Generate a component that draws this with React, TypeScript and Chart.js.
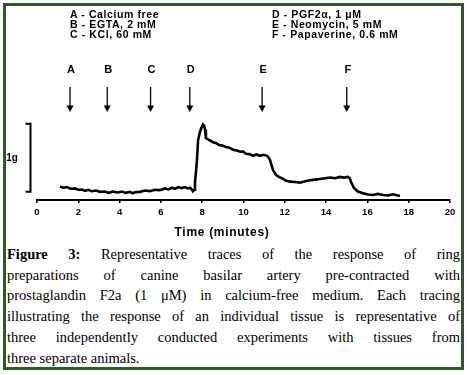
import React, { useEffect, useRef } from "react";
import { Chart, registerables } from "chart.js";

Chart.register(...registerables);

// ---- data ----
const legendLeft = ["A - Calcium free", "B - EGTA, 2 mM", "C - KCl, 60 mM"];
const legendRight = ["D - PGF2\u03b1, 1 \u03bcM", "E - Neomycin, 5 mM", "F - Papaverine, 0.6 mM"];
const arrowLabels = ["A", "B", "C", "D", "E", "F"];
const arrowTimes = [1.6, 3.4, 5.5, 7.4, 10.9, 15.0];
const xTicks = [0, 2, 4, 6, 8, 10, 12, 14, 16, 18, 20];
const xTitle = "Time (minutes)";
const scaleBarLabel = "1g";
const scaleBarStart = 0.12; // g
const scaleBarSize = 1; // g

const timeMin = [
  1.11, 1.3, 1.45, 1.62, 1.84, 2.0, 2.18, 2.33, 2.47, 2.66, 2.86, 3.05, 3.29, 3.47, 3.68, 3.9,
  4.12, 4.3, 4.5, 4.62, 4.75, 4.98, 5.23, 5.47, 5.71, 5.95, 6.2, 6.37, 6.54, 6.7, 6.83, 7.0,
  7.17, 7.3, 7.41, 7.5, 7.55, 7.62, 7.65, 7.7, 7.75, 7.8, 7.89, 7.97, 8.04, 8.1, 8.14, 8.18,
  8.25, 8.33, 8.42, 8.52, 8.66, 8.81, 8.98, 9.15, 9.32, 9.49, 9.66, 9.83, 9.97, 10.12, 10.3,
  10.46, 10.63, 10.8, 10.97, 11.14, 11.2, 11.28, 11.35, 11.43, 11.57, 11.77, 11.9, 12.01,
  12.25, 12.5, 12.74, 12.98, 13.22, 13.46, 13.7, 13.95, 14.19, 14.43, 14.67, 14.87, 15.06,
  15.15, 15.21, 15.35, 15.54, 15.79, 16.03, 16.27, 16.51, 16.76, 17.0, 17.24, 17.48, 17.58,
];
const tensionG = [
  0.196, 0.18, 0.19, 0.165, 0.17, 0.15, 0.155, 0.135, 0.15, 0.13, 0.14, 0.12, 0.125, 0.105,
  0.125, 0.11, 0.125, 0.105, 0.12, 0.1, 0.115, 0.12, 0.14, 0.13, 0.15, 0.145, 0.17, 0.155,
  0.18, 0.165, 0.19, 0.175, 0.19, 0.17, 0.18, 0.155, 0.13, 0.15, 0.25, 0.42, 0.6, 0.88, 1.0,
  1.07, 1.11, 1.09, 1.03, 0.91, 0.9, 0.88, 0.87, 0.85, 0.84, 0.81, 0.8, 0.78, 0.77, 0.74,
  0.73, 0.71, 0.715, 0.68, 0.675, 0.65, 0.67, 0.65, 0.665, 0.65, 0.63, 0.59, 0.52, 0.44,
  0.37, 0.33, 0.315, 0.29, 0.27, 0.265, 0.255, 0.275, 0.29, 0.3, 0.31, 0.32, 0.33, 0.32,
  0.34, 0.33, 0.34, 0.32, 0.265, 0.176, 0.125, 0.1, 0.08, 0.074, 0.09, 0.074, 0.066, 0.085,
  0.066, 0.06,
];

const captionLines = [
  "Representative traces of the response of ring",
  "preparations of canine basilar artery pre-contracted with",
  "prostaglandin F2a (1 \u03bcM) in calcium-free medium. Each tracing",
  "illustrating the response of an individual tissue is representative of",
  "three independently conducted experiments with tissues from",
  "three separate animals.",
];

const W = 467;
const CH = 240;
const GREEN = "#2e5a27";
const SANS = "'Liberation Sans', Arial, sans-serif";

const overlayPlugin = {
  id: "overlay",
  afterDraw(chart: any) {
    const ctx = chart.ctx;
    const xs = chart.scales.x;
    const ys = chart.scales.y;
    ctx.save();
    ctx.fillStyle = "#000";
    ctx.strokeStyle = "#000";
    // arrows and letters
    arrowTimes.forEach((t, i) => {
      const px = xs.getPixelForValue(t);
      ctx.font = `bold 11px ${SANS}`;
      ctx.textAlign = "center";
      ctx.textBaseline = "middle";
      ctx.fillText(arrowLabels[i], px + 1, 69.5);
      ctx.lineWidth = 1.3;
      ctx.beginPath();
      ctx.moveTo(px, 87);
      ctx.lineTo(px, 106);
      ctx.stroke();
      ctx.beginPath();
      ctx.moveTo(px - 3.5, 105.5);
      ctx.lineTo(px + 3.5, 105.5);
      ctx.lineTo(px, 112);
      ctx.closePath();
      ctx.fill();
    });
    // scale bar
    const yTop = ys.getPixelForValue(scaleBarStart + scaleBarSize);
    const yBot = ys.getPixelForValue(scaleBarStart);
    const bx = 30.5;
    ctx.lineWidth = 2;
    ctx.beginPath();
    ctx.moveTo(bx - 5, yTop);
    ctx.lineTo(bx, yTop);
    ctx.lineTo(bx, yBot);
    ctx.lineTo(bx - 5, yBot);
    ctx.stroke();
    ctx.font = `bold 10px ${SANS}`;
    ctx.textAlign = "center";
    ctx.textBaseline = "middle";
    ctx.fillText(scaleBarLabel, 12, (yTop + yBot) / 2);
    // x title
    ctx.font = `bold 12px ${SANS}`;
    try {
      ctx.letterSpacing = "0.7px";
    } catch (e) {}
    ctx.fillText(xTitle, 222, 233);
    ctx.restore();
  },
};

function ChartView() {
  const ref = useRef<HTMLCanvasElement | null>(null);
  useEffect(() => {
    if (!ref.current) return;
    const chart = new Chart(ref.current, {
      type: "line",
      data: {
        datasets: [
          {
            data: timeMin.map((t, i) => ({ x: t, y: tensionG[i] })),
            borderColor: "#000",
            borderWidth: 2.6,
            pointRadius: 0,
            tension: 0,
            fill: false,
          },
        ],
      },
      options: {
        animation: false,
        responsive: false,
        events: [],
        layout: { padding: { left: 37, right: 17, top: 60, bottom: 0 } },
        plugins: { legend: { display: false }, tooltip: { enabled: false }, title: { display: false } },
        scales: {
          x: {
            type: "linear",
            min: 0,
            max: 20,
            afterFit: (s: any) => {
              s.height = 40;
            },
            afterBuildTicks: (s: any) => {
              s.ticks = xTicks.map((v) => ({ value: v }));
            },
            border: { display: true, color: "#000", width: 2 },
            grid: { drawOnChartArea: false, drawTicks: true, tickLength: 3, color: "#000", lineWidth: 1.5 },
            ticks: {
              color: "#000",
              font: { family: SANS, size: 9.5, weight: "bold" },
              padding: 4,
              maxRotation: 0,
              autoSkip: false,
            },
          },
          y: {
            display: false,
            min: 0,
            max: 140 / 68,
          },
        },
      },
      plugins: [overlayPlugin],
    } as any);
    return () => chart.destroy();
  }, []);
  return <canvas ref={ref} width={W} height={CH} style={{ position: "absolute", left: 0, top: 0 }} />;
}

export default function App() {
  const legendStyle: React.CSSProperties = {
    position: "absolute",
    top: 8.5,
    fontFamily: SANS,
    fontWeight: "bold",
    fontSize: 10.5,
    letterSpacing: "0.6px",
    lineHeight: "10.4px",
    color: "#000",
    whiteSpace: "nowrap",
  };
  return (
    <div style={{ position: "absolute", left: 0, top: 0, width: W, height: 375, background: "#fff" }}>
      <div
        style={{
          position: "absolute",
          left: 3,
          top: 3,
          width: 461,
          height: 367,
          border: `3px solid ${GREEN}`,
          boxSizing: "border-box",
        }}
      />
      <ChartView />
      <div style={{ ...legendStyle, left: 70 }}>
        {legendLeft.map((s) => (
          <div key={s}>{s}</div>
        ))}
      </div>
      <div style={{ ...legendStyle, left: 272 }}>
        {legendRight.map((s) => (
          <div key={s}>{s}</div>
        ))}
      </div>
      <div
        style={{
          position: "absolute",
          left: 7,
          top: 244,
          width: 453,
          fontFamily: "'Liberation Serif', 'Times New Roman', serif",
          fontSize: 14.5,
          lineHeight: "20.7px",
          color: "#000",
        }}
      >
        {captionLines.map((line, i) => {
          const last = i === captionLines.length - 1;
          return (
            <div
              key={i}
              style={{ textAlign: last ? "left" : "justify", textAlignLast: last ? "left" : "justify" } as any}
            >
              {i === 0 ? (
                <>
                  <b>Figure 3:</b> {line}
                </>
              ) : (
                line
              )}
            </div>
          );
        })}
      </div>
    </div>
  );
}
